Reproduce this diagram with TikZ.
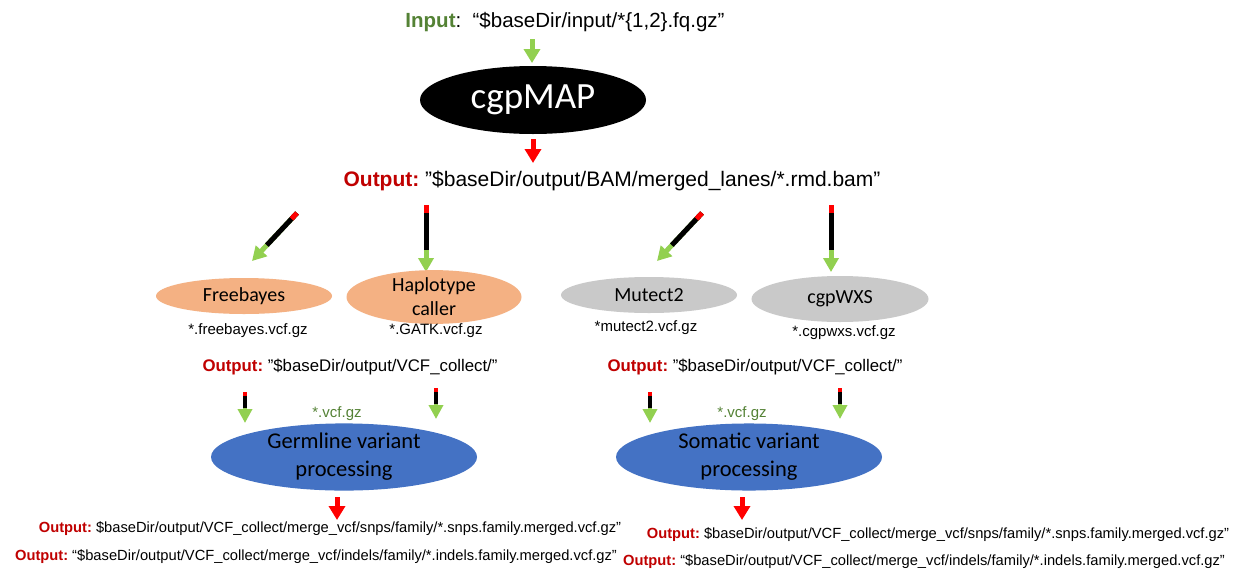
\documentclass[tikz,border=0pt]{standalone}
\usepackage{fontspec}
\setmainfont{Liberation Sans}
\newfontfamily\calfont{Carlito}
\usetikzlibrary{shapes.geometric,arrows.meta,calc}
\definecolor{ingreen}{HTML}{548235}
\definecolor{agreen}{HTML}{92D050}
\definecolor{outred}{HTML}{C00000}
\definecolor{ared}{HTML}{FF0000}
\definecolor{orangefill}{HTML}{F4B183}
\definecolor{grayfill}{HTML}{C9C9C9}
\definecolor{bluefill}{HTML}{4472C4}
\tikzset{
  proc/.style={ellipse, inner sep=0pt, align=center, font=\calfont\fontsize{20}{25}\selectfont},
  txt/.style={inner sep=0pt, anchor=center},
  bigtip/.style={-{Triangle[width=16pt,length=14pt]}},
  garrow/.style={agreen, line width=5pt, bigtip},
  rarrow/.style={ared, line width=5pt, bigtip},
  midarrow/.style={agreen, line width=5pt, -{Triangle[width=15pt,length=14pt]}},
  smallarrow/.style={agreen, line width=4pt, -{Triangle[width=14pt,length=14pt]}},
  shaftblack/.style={black, line width=#1},
  shaftred/.style={ared, line width=#1},
}
\newcommand{\OUT}{{\color{outred}\bfseries Output:}}
\newcommand{\sq}{\char"22\relax}
\begin{document}
\begin{tikzpicture}[x=1pt,y=-1pt]
\useasboundingbox[fill=white] (0,0) rectangle (1237,579);

% top input
\node[txt, font=\fontsize{20.5}{24}\selectfont] (input) at (565,22)
  {{\color{ingreen}\bfseries Input}:~~“\$baseDir/input/*\{1,2\}.fq.gz”};
\coordinate (ia) at (532,39);
\coordinate (ib) at (532,63);
\draw[garrow] (ia) -- (ib);

\node[proc, fill=black, text=white, minimum width=226pt, minimum height=68pt,
      font=\calfont\fontsize{37}{40}\selectfont] (map) at (533,100) {cgpMAP};

\coordinate (ma) at (533,139);
\coordinate (mb) at (533,163);
\draw[rarrow] (ma) -- (mb);

\node[txt, font=\fontsize{21}{24}\selectfont] (bamout) at (612,181)
  {\OUT\ \sq\$baseDir/output/BAM/merged\_lanes/*.rmd.bam”};

% four tri-colour arrows
\coordinate (a1s) at (297,213); \coordinate (a1e) at (252,261);
\coordinate (a2s) at (426,205); \coordinate (a2e) at (426,272);
\coordinate (a3s) at (702,213); \coordinate (a3e) at (657,261);
\coordinate (a4s) at (831,205); \coordinate (a4e) at (831,272);
\foreach \s/\e in {a1s/a1e,a2s/a2e,a3s/a3e,a4s/a4e}{
  \draw[midarrow] (\s) -- (\e);
  \draw[shaftblack=5pt] (\s) -- ($(\s)!0.67!(\e)$);
  \draw[shaftred=5pt] (\s) -- ($(\s)!8pt!(\e)$);
}

% callers
\node[proc, fill=orangefill, minimum width=176pt, minimum height=36pt] (fb) at (244,296) {Freebayes};
\node[proc, fill=orangefill, minimum width=175pt, minimum height=49pt] (hc) at (434,297) {Haplotype\\[-1pt]caller};
\node[proc, fill=grayfill, minimum width=176pt, minimum height=36pt] (mu) at (649,295) {Mutect2};
\node[proc, fill=grayfill, minimum width=177pt, minimum height=46pt] (wx) at (840,299) {cgpWXS};

\node[txt, font=\fontsize{15}{18}\selectfont] (fbo) at (248,331) {*.freebayes.vcf.gz};
\node[txt, font=\fontsize{15}{18}\selectfont] (hco) at (436,331) {*.GATK.vcf.gz};
\node[txt, font=\fontsize{15}{18}\selectfont] (muo) at (646,328) {*mutect2.vcf.gz};
\node[txt, font=\fontsize{15}{18}\selectfont] (wxo) at (844,333) {*.cgpwxs.vcf.gz};

% VCF collect outputs
\node[txt, font=\fontsize{16.8}{19}\selectfont] (vl) at (350,367)
  {\OUT\ \sq\$baseDir/output/VCF\_collect/”};
\node[txt, font=\fontsize{16.8}{19}\selectfont] (vr) at (755,367)
  {\OUT\ \sq\$baseDir/output/VCF\_collect/”};

% small arrows
\coordinate (s1s) at (245,392); \coordinate (s1e) at (245,423);
\coordinate (s2s) at (436,388); \coordinate (s2e) at (436,419);
\coordinate (s3s) at (650,392); \coordinate (s3e) at (650,423);
\coordinate (s4s) at (840,388); \coordinate (s4e) at (840,419);
\foreach \s/\e in {s1s/s1e,s2s/s2e,s3s/s3e,s4s/s4e}{
  \draw[smallarrow] (\s) -- (\e);
  \draw[shaftblack=4pt] (\s) -- ($(\s)!0.52!(\e)$);
  \draw[shaftred=4pt] (\s) -- ($(\s)!3.5pt!(\e)$);
}

\node[txt, text=ingreen, font=\fontsize{15}{18}\selectfont] (gzl) at (337,414) {*.vcf.gz};
\node[txt, text=ingreen, font=\fontsize{15}{18}\selectfont] (gzr) at (742,414) {*.vcf.gz};

% processing
\node[proc, fill=bluefill, minimum width=266pt, minimum height=59pt,
      font=\calfont\fontsize{22.5}{28}\selectfont] (germ) at (344,457) {Germline variant\\processing};
\node[proc, fill=bluefill, minimum width=266pt, minimum height=59pt,
      font=\calfont\fontsize{22.5}{28}\selectfont] (soma) at (749,457) {Somatic variant\\processing};

\coordinate (gra) at (337,497); \coordinate (grb) at (337,520);
\coordinate (sra) at (742,497); \coordinate (srb) at (742,520);
\draw[rarrow] (gra) -- (grb);
\draw[rarrow] (sra) -- (srb);

% bottom outputs
\node[txt, font=\fontsize{14.7}{16}\selectfont] (gl1) at (330,529)
  {\OUT\ \$baseDir/output/VCF\_collect/merge\_vcf/snps/family/*.snps.family.merged.vcf.gz”};
\node[txt, font=\fontsize{14.7}{16}\selectfont] (gl2) at (316,557)
  {\OUT\ “\$baseDir/output/VCF\_collect/merge\_vcf/indels/family/*.indels.family.merged.vcf.gz”};
\node[txt, font=\fontsize{14.7}{16}\selectfont] (sl1) at (938,535)
  {\OUT\ \$baseDir/output/VCF\_collect/merge\_vcf/snps/family/*.snps.family.merged.vcf.gz\sq};
\node[txt, font=\fontsize{14.7}{16}\selectfont] (sl2) at (924,562)
  {\OUT\ “\$baseDir/output/VCF\_collect/merge\_vcf/indels/family/*.indels.family.merged.vcf.gz\sq};
\end{tikzpicture}
\end{document}
